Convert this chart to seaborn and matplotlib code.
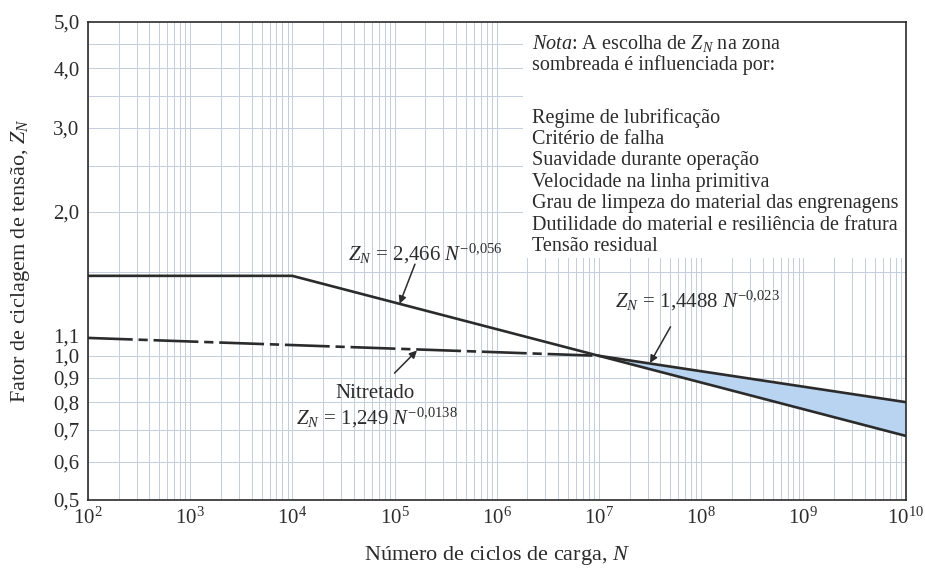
import numpy as np
import pandas as pd
import matplotlib
matplotlib.use("Agg")
import matplotlib.pyplot as plt
from matplotlib.patches import Rectangle
from matplotlib.ticker import FixedLocator, NullFormatter
import seaborn as sns

# curves (N, Z_N)
n_normal = [1e2, 1e4, 1e10]
z_normal = [1.47, 1.47, 0.68]
n_nitr = [1e2, 1e7]
z_nitr = [1.09, 1.0]
n_upper = [1e7, 1e10]
z_upper = [1.0, 0.80]

# shaded zone between the two curves after 10^7
n_shade = [1e7, 1e10]
z_shade_top = [1.0, 0.80]
z_shade_bot = [1.0, 0.68]

y_ticks = [0.5, 0.6, 0.7, 0.8, 0.9, 1.0, 1.1, 2.0, 3.0, 4.0, 5.0]
y_tick_labels = ["0,5", "0,6", "0,7", "0,8", "0,9", "1,0", "1,1", "2,0", "3,0", "4,0", "5,0"]
y_grid = [0.6, 0.7, 0.8, 0.9, 1.0, 1.5, 2.0, 2.5, 3.0, 3.5, 4.0, 4.5]
x_exponents = [2, 3, 4, 5, 6, 7, 8, 9, 10]

note_lines = [
    r"$\mathit{Nota}$: A escolha de $Z_N$ na zona",
    "sombreada é influenciada por:",
    "",
    "Regime de lubrificação",
    "Critério de falha",
    "Suavidade durante operação",
    "Velocidade na linha primitiva",
    "Grau de limpeza do material das engrenagens",
    "Dutilidade do material e resiliência de fratura",
    "Tensão residual",
]

sns.set_theme(style="white")
plt.rcParams["font.family"] = ["Liberation Serif", "DejaVu Serif"]
plt.rcParams["mathtext.fontset"] = "custom"
plt.rcParams["mathtext.rm"] = "Liberation Serif"
plt.rcParams["mathtext.it"] = "Liberation Serif:italic"
plt.rcParams["mathtext.bf"] = "Liberation Serif:bold"

ink = "#2b2b2b"
grid_col = "#c3cedc"

fig = plt.figure(figsize=(9.25, 5.73), dpi=100)
ax = fig.add_axes([0.095, 0.128, 0.884, 0.834])
ax.set_xscale("log")
ax.set_yscale("log")
ax.set_xlim(1e2, 1e10)
ax.set_ylim(0.5, 5.0)

# grid: every 1..9 x 10^k vertically, chosen values horizontally
x_grid = [m * 10.0 ** k for k in range(2, 10) for m in range(1, 10)]
ax.xaxis.set_major_locator(FixedLocator([10.0 ** e for e in x_exponents]))
ax.xaxis.set_minor_locator(FixedLocator(x_grid))
ax.xaxis.set_minor_formatter(NullFormatter())
ax.set_xticklabels([rf"$10^{{{e}}}$" for e in x_exponents])
ax.yaxis.set_major_locator(FixedLocator(y_ticks))
ax.yaxis.set_minor_locator(FixedLocator(y_grid))
ax.yaxis.set_minor_formatter(NullFormatter())
ax.set_yticklabels(y_tick_labels)
ax.xaxis.remove_overlapping_locs = False
ax.yaxis.remove_overlapping_locs = False
ax.set_axisbelow(True)
ax.grid(which="minor", axis="both", color=grid_col, lw=0.7)
ax.tick_params(which="both", length=0, labelsize=15, colors=ink, pad=6)

for s in ax.spines.values():
    s.set_color(ink)
    s.set_linewidth(1.2)

# white panel behind the note
ax.add_patch(Rectangle((0.532, 0.505), 0.468, 0.495, transform=ax.transAxes,
                       facecolor="white", edgecolor="none", zorder=1))

ax.fill_between(n_shade, z_shade_bot, z_shade_top, color="#b8d4f0", lw=0, zorder=2)

sns.lineplot(x=n_normal, y=z_normal, ax=ax, color=ink, lw=1.9, estimator=None, sort=False, zorder=3)
sns.lineplot(x=n_upper, y=z_upper, ax=ax, color=ink, lw=1.9, estimator=None, sort=False, zorder=3)
sns.lineplot(x=n_nitr, y=z_nitr, ax=ax, color=ink, lw=1.9, estimator=None, sort=False, zorder=3,
             linestyle=(0, (17, 2.2, 3.5, 2.2)))

# note text
for i, line in enumerate(note_lines):
    y = 0.955 - 0.0448 * i - (0.022 if i >= 3 else 0)
    if line:
        ax.text(0.543, y, line, transform=ax.transAxes, fontsize=14.5, color=ink,
                va="center", ha="left", zorder=4)

arrow = dict(arrowstyle="-|>", color=ink, lw=1.1, mutation_scale=11, shrinkA=0, shrinkB=0)
eq_kw = dict(fontsize=15, color=ink, ha="center", va="center", zorder=4)

ax.text(10 ** 5.3, 1.635, r"$Z_N\,=\,2{,}466\ N^{-0{,}056}$", **eq_kw)
ax.annotate("", xy=(10 ** 5.05, 1.285), xytext=(10 ** 5.2, 1.555), arrowprops=arrow, zorder=4)

ax.text(10 ** 7.96, 1.30, r"$Z_N\,=\,1{,}4488\ N^{-0{,}023}$", **eq_kw)
ax.annotate("", xy=(10 ** 7.5, 0.966), xytext=(10 ** 7.7, 1.15), arrowprops=arrow, zorder=4)

ax.text(10 ** 4.81, 0.835, "Nitretado", **eq_kw)
ax.text(10 ** 4.83, 0.74, r"$Z_N\,=\,1{,}249\ N^{-0{,}0138}$", **eq_kw)
ax.annotate("", xy=(10 ** 5.22, 1.026), xytext=(10 ** 5.0, 0.92), arrowprops=arrow, zorder=4)

ax.set_xlabel(r"Número de ciclos de carga, $N$", fontsize=16, color=ink, labelpad=11)
ax.set_ylabel(r"Fator de ciclagem de tensão, $Z_N$", fontsize=16, color=ink)
ax.yaxis.set_label_coords(-0.068, 0.5)

fig.savefig("out.png", dpi=100, facecolor="white")
